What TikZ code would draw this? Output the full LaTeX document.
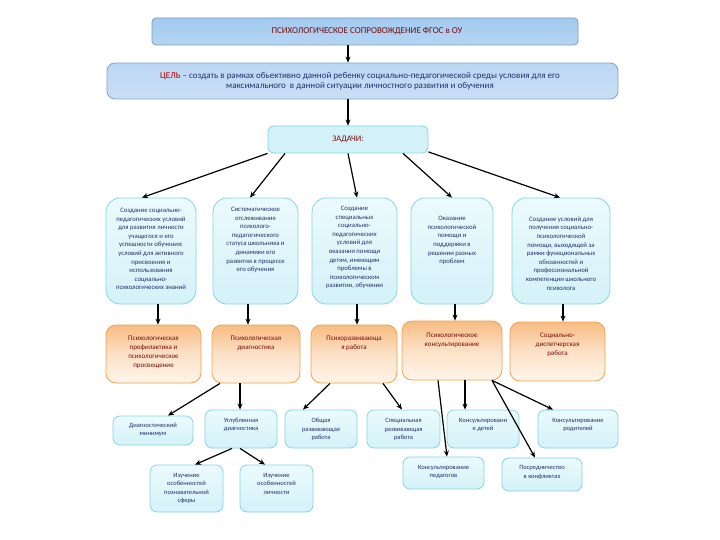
\documentclass[tikz,border=0pt]{standalone}
\usepackage{fontspec}
\setmainfont{Carlito}
\usetikzlibrary{arrows.meta}
\definecolor{navy}{HTML}{1F2F6E}
\definecolor{maroon}{HTML}{7A0A0A}
\definecolor{celred}{HTML}{C00000}
\definecolor{cyanedge}{HTML}{86D3E4}
\definecolor{cyanfill}{HTML}{D3F2F8}
\definecolor{cyanlight}{HTML}{ECFAFD}
\definecolor{oredge}{HTML}{F0A24E}
\definecolor{ortop}{HTML}{F8BC82}
\definecolor{orbot}{HTML}{FFF5EA}
\definecolor{titedge}{HTML}{7E9CB8}
\definecolor{titblue}{HTML}{A3CAF0}
\definecolor{goaledge}{HTML}{7FA3CB}
\definecolor{goalblue}{HTML}{BCD7F3}
\begin{document}
\begin{tikzpicture}[x=1pt,y=-1pt,
  titlebox/.style={draw=titedge, line width=0.8pt, rounded corners=4pt, top color=titblue, middle color=white, bottom color=titblue!80, shading angle=0, inner sep=0pt},
  goalbox/.style={draw=goaledge, line width=0.8pt, rounded corners=8pt, top color=goalblue, middle color=white!85!goalblue, bottom color=goalblue!80, inner sep=0pt},
  zadbox/.style={draw=cyanedge, line width=0.8pt, rounded corners=6pt, top color=cyanfill, middle color=white, bottom color=cyanfill, inner sep=0pt},
  bluebox/.style={draw=cyanedge, line width=0.8pt, rounded corners=14pt, top color=cyanlight, bottom color=cyanfill, inner sep=0pt},
  orbox/.style={draw=oredge, line width=0.8pt, rounded corners=10pt, top color=ortop, bottom color=orbot, middle color=ortop!45!white, inner sep=0pt},
  smallbox/.style={draw=cyanedge, line width=0.8pt, rounded corners=7pt, top color=cyanlight, middle color=white, bottom color=cyanfill, inner sep=0pt},
  bluetxt/.style={align=center, text=navy, font=\fontsize{6.7}{8.6}\selectfont, inner sep=0pt},
  ortxt/.style={align=center, text=maroon, font=\fontsize{7}{9}\selectfont, inner sep=0pt},
  smtxt/.style={align=center, text=navy, font=\fontsize{6.5}{8.5}\selectfont, inner sep=0pt},
  arr/.style={line width=1.2pt, draw=black, -{Stealth[length=6pt,width=5pt]}}
]
\useasboundingbox[fill=white] (0,0) rectangle (720,540);

% top
\node[titlebox, minimum width=426pt, minimum height=27pt] (title) at (365,31.5) {};
\node[text=maroon, font=\fontsize{9}{11}\selectfont, inner sep=0pt] (titlet) at (367,31) {ПСИХОЛОГИЧЕСКОЕ СОПРОВОЖДЕНИЕ ФГОС в ОУ};

\node[goalbox, minimum width=511pt, minimum height=36pt] (goal) at (362.5,81) {};
\node[align=center, text=navy, font=\fontsize{9}{10.5}\selectfont, inner sep=0pt] (goalt) at (360,81)
 {\textcolor{celred}{ЦЕЛЬ} – создать в рамках обьективно данной ребенку социально-педагогической среды условия для его\\
  максимального\ \ в данной ситуации личностного развития и обучения};

\node[zadbox, minimum width=160pt, minimum height=27pt] (zad) at (348,139.5) {};
\node[text=maroon, font=\fontsize{8.5}{10}\selectfont, inner sep=0pt] (zadt) at (348,139.5) {ЗАДАЧИ:};

% row 1
\node[bluebox, minimum width=90pt, minimum height=106pt] (t1) at (151,251) {};
\node[bluebox, minimum width=85pt, minimum height=106pt] (t2) at (255.5,251) {};
\node[bluebox, minimum width=85pt, minimum height=106pt] (t3) at (354.5,251) {};
\node[bluebox, minimum width=82pt, minimum height=106pt] (t4) at (452,251) {};
\node[bluebox, minimum width=98pt, minimum height=106pt] (t5) at (561,251) {};

\node[bluetxt] (t1t) at (151,249) {Создание социально-\\педагогических условий\\для развития личности\\учащегося и его\\успешности обучения;\\условий для активного\\присвоения и\\использования\\социально-\\психологических знаний};
\node[bluetxt] (t2t) at (255.5,240) {Систематическое\\отслеживание\\психолого-\\педагогического\\статуса школьника и\\динамики его\\развития в процессе\\его обучения};
\node[bluetxt] (t3t) at (354.5,247.5) {Создание\\специальных\\социально-\\педагогических\\условий для\\оказания помощи\\детям, имеющим\\проблемы в\\психологическом\\развитии, обучении};
\node[bluetxt] (t4t) at (452,240.5) {Оказание\\психологической\\помощи и\\поддержки в\\решении разных\\проблем};
\node[bluetxt] (t5t) at (561,253.5) {Создание условий для\\получения социально-\\психологической\\помощи, выходящей за\\рамки функциональных\\обязанностей и\\профессиональной\\компетенции школьного\\психолога};

% row 2
\node[orbox, minimum width=95pt, minimum height=58pt] (o1) at (153.5,354) {};
\node[orbox, minimum width=88pt, minimum height=58pt] (o2) at (256,354) {};
\node[orbox, minimum width=86pt, minimum height=58pt] (o3) at (354,354) {};
\node[orbox, minimum width=100pt, minimum height=59pt] (o4) at (452,350.5) {};
\node[orbox, minimum width=95pt, minimum height=59pt] (o5) at (557.5,351.5) {};

\node[ortxt] (o1t) at (153.5,352.5) {Психологическая\\профилактика и\\психологическое\\просвещение};
\node[ortxt] (o2t) at (256,343.5) {Психологическая\\диагностика};
\node[ortxt] (o3t) at (354,343.5) {Психоразвивающа\\я работа};
\node[ortxt] (o4t) at (452,340.5) {Психологическое\\консультирование};
\node[ortxt] (o5t) at (557.5,345) {Социально-\\диспетчерская\\работа};

% row 3
\node[smallbox, minimum width=80pt, minimum height=29pt] (dmin) at (153,430.5) {};
\node[smallbox, minimum width=72pt, minimum height=38pt] (uglub) at (241,429) {};
\node[smallbox, minimum width=72pt, minimum height=38pt] (obsh) at (321,429) {};
\node[smallbox, minimum width=73pt, minimum height=38pt] (spec) at (403.5,429) {};
\node[smallbox, minimum width=72pt, minimum height=38pt] (kdet) at (483,429) {};
\node[smallbox, minimum width=80pt, minimum height=38pt] (krod) at (578,429) {};
\node[smallbox, minimum width=81pt, minimum height=32pt] (kped) at (443.5,473) {};
\node[smallbox, minimum width=80pt, minimum height=33pt] (posr) at (542,474.5) {};
\node[smallbox, minimum width=73pt, minimum height=47pt] (iz1) at (186.5,488.5) {};
\node[smallbox, minimum width=73pt, minimum height=47pt] (iz2) at (276.5,488.5) {};

\node[smtxt] (dmint) at (153,430) {Диагностический\\минимум};
\node[smtxt] (uglubt) at (241,425) {Углубленная\\диагностика};
\node[smtxt] (obsht) at (321,429.5) {Общая\\развивающая\\работа};
\node[smtxt] (spect) at (403.5,429.5) {Специальная\\развивающая\\работа};
\node[smtxt] (kdett) at (483,425) {Консультировани\\е детей};
\node[smtxt] (krodt) at (578,425) {Консультирование\\родителей};
\node[smtxt] (kpedt) at (443.5,472) {Консультирование\\педагогов};
\node[smtxt] (posrt) at (542,472.5) {Посредничество\\в конфликтах};
\node[smtxt] (iz1t) at (186.5,488.5) {Изучение\\особенностей\\познавательной\\сферы};
\node[smtxt] (iz2t) at (276.5,483.5) {Изучение\\особенностей\\личности};

% connectors
\draw[arr] (title.south -| zad.north) -- (goal.north -| zad.north);
\draw[arr] (goal.south -| zad.north) -- (zad.north);

\draw[arr] (zad.south west) -- ([xshift=-9pt]t1.north);
\draw[arr] ([xshift=-63pt]zad.south) -- ([xshift=-5.5pt]t2.north);
\draw[arr] (zad.south) -- ([xshift=2.5pt]t3.north);
\draw[arr] ([xshift=55pt]zad.south) -- (t4.north);
\draw[arr] ([yshift=1.5pt]zad.south east) -- ([xshift=-1pt]t5.north);

\draw[arr] ([xshift=4.5pt]o1.north |- t1.south) -- ([xshift=4.5pt]o1.north);
\draw[arr] ([xshift=-8pt]o2.north |- t2.south) -- ([xshift=-8pt]o2.north);
\draw[arr] ([xshift=3pt]o3.north |- t3.south) -- ([xshift=3pt]o3.north);
\draw[arr] ([xshift=3pt]o4.north |- t4.south) -- ([xshift=3pt]o4.north);
\draw[arr] ([xshift=5.5pt]o5.north |- t5.south) -- ([xshift=5.5pt]o5.north);

\draw[arr] ([xshift=-36pt]o2.south) -- ([xshift=15pt]dmin.north);
\draw[arr] ([xshift=-16pt]o2.south) -- ([xshift=-1pt]uglub.north);
\draw[arr] ([xshift=-24pt]o3.south) -- ([xshift=-18pt]obsh.north);
\draw[arr] ([xshift=29pt]o3.south) -- ([xshift=-1.5pt]spec.north);
\draw[arr] ([xshift=-14pt]o4.south) -- ([xshift=3.5pt]kped.north);
\draw[arr] ([xshift=13pt]o4.south) -- ([xshift=-18pt]kdet.north);
\draw[arr] ([xshift=40pt]o4.south) -- ([xshift=-7pt]posr.north);
\draw[arr] ([xshift=40pt]o4.south) -- ([xshift=-25pt]krod.north);
\draw[arr] ([xshift=-9pt]uglub.south) -- ([xshift=8.5pt]iz1.north);
\draw[arr] ([xshift=-1pt]uglub.south) -- ([xshift=-11.5pt]iz2.north);
\end{tikzpicture}
\end{document}
